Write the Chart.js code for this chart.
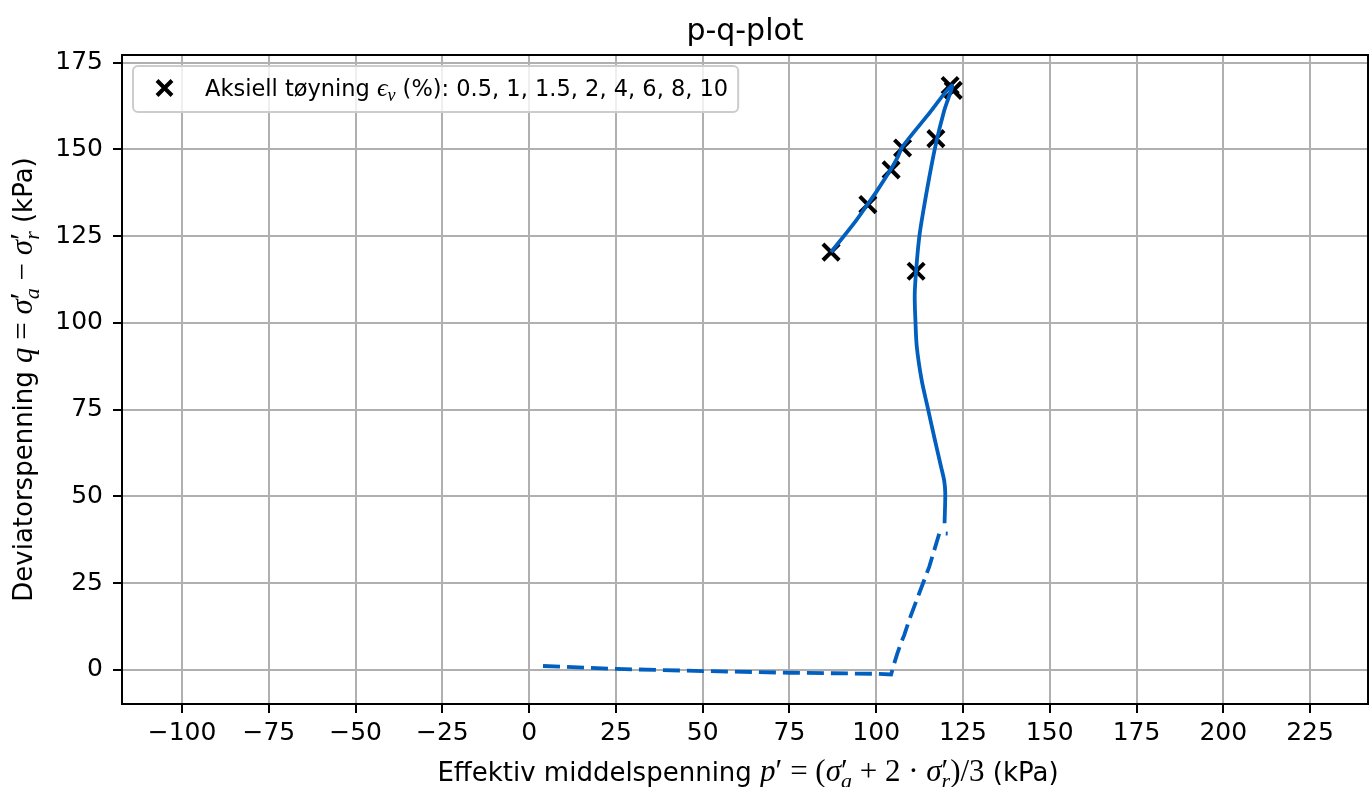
<!DOCTYPE html>
<html><head><meta charset="utf-8">
<script src="https://cdn.jsdelivr.net/npm/chart.js@4.4.1/dist/chart.umd.min.js"></script>
<style>html,body{margin:0;padding:0;background:#fff}#wrap{width:1370px;height:787px}</style>
</head><body><div id="wrap"><canvas id="c" width="1370" height="787"></canvas></div>
<script>
// ---- data ----
const chartTitle = 'p-q-plot';
const dashedP = [4.0, 25.1, 50.1, 75.0, 100.4, 104.3, 105.2, 106.1, 107.1, 108.1, 109.5, 112.4, 115.3, 118.2, 120.6];
const dashedQ = [1.15, 0.3, -0.3, -0.8, -1.1, -1.3, 1.9, 4.8, 7.7, 10.1, 14.4, 22.1, 29.8, 39.4, 39.3];
const solidP = [119.7, 119.9, 119.6, 118.7, 116.7, 114.8, 113.1, 111.7, 111.3, 111.1, 111.5, 112.4, 113.6, 115.3, 117.2, 119.6, 121.8, 114.8, 107.6, 106.2, 104.3, 100.0, 97.6, 94.2, 87.0];
const solidQ = [42.3, 50.9, 54.5, 58.5, 67.2, 75.8, 83.5, 93.1, 100.7, 108.0, 115.0, 124.7, 132.4, 142.0, 151.6, 161.2, 168.4, 159.8, 150.8, 147.8, 144.4, 137.7, 134.3, 129.5, 120.4];
const markerP = [111.5, 117.2, 121.3, 122.2, 107.6, 104.3, 97.6, 87.0];
const markerQ = [114.9, 153.1, 168.4, 167.0, 150.4, 144.1, 134.1, 120.4];
const strainLabels = ['0.5', '1', '1.5', '2', '4', '6', '8', '10'];
const xTickValues = [-100, -75, -50, -25, 0, 25, 50, 75, 100, 125, 150, 175, 200, 225];
const yTickValues = [0, 25, 50, 75, 100, 125, 150, 175];
const xRange = [-117.3, 241.7];
const yRange = [-9.8, 177.2];

const BLUE = '#005fbf';
const SANS = '"DejaVu Sans", sans-serif';
const SERIF = '"Liberation Serif", "DejaVu Serif", serif';

const toXY = (ps, qs) => ps.map((p, i) => ({x: p, y: qs[i]}));
const fmt = v => v < 0 ? '\u2212' + Math.abs(v) : String(v);

function layoutRuns(ctx, runs) {
  let cur = 0, lastW = 0, maxX = 0;
  const pos = [];
  for (const r of runs) {
    ctx.font = r.f;
    const w = ctx.measureText(r.t).width;
    if (r.back) cur -= lastW;
    pos.push(cur);
    if (r.back) { cur += Math.max(w, lastW); } else { cur += w; }
    lastW = w;
    maxX = Math.max(maxX, cur);
  }
  return {pos, width: maxX};
}
function drawRuns(ctx, runs, x, y, rot, align) {
  ctx.save();
  ctx.translate(x, y);
  if (rot) ctx.rotate(rot);
  ctx.fillStyle = '#000';
  ctx.textBaseline = 'alphabetic';
  ctx.textAlign = 'left';
  const L = layoutRuns(ctx, runs);
  const start = align === 'left' ? 0 : -L.width / 2;
  runs.forEach((r, i) => {
    ctx.font = r.f;
    ctx.fillText(r.t, start + L.pos[i], r.dy || 0);
  });
  ctx.restore();
  return L.width;
}

const mI = 'italic 31px ' + SERIF, mR = '31px ' + SERIF, mS = 'italic 22px ' + SERIF;
const sansL = '26px ' + SANS;
const xLabelRuns = [
  {t: 'Effektiv middelspenning ', f: sansL},
  {t: 'p', f: mI}, {t: '\u2032', f: mR}, {t: ' = (', f: mR},
  {t: '\u03c3', f: mI}, {t: '\u2032', f: mR}, {t: 'a', f: mS, dy: 7, back: true},
  {t: ' + 2 \u00b7 ', f: mR},
  {t: '\u03c3', f: mI}, {t: '\u2032', f: mR}, {t: 'r', f: mS, dy: 7, back: true},
  {t: ')/3', f: mR}, {t: ' (kPa)', f: sansL}
];
const yLabelRuns = [
  {t: 'Deviatorspenning ', f: sansL},
  {t: 'q', f: mI}, {t: ' = ', f: mR},
  {t: '\u03c3', f: mI}, {t: '\u2032', f: mR}, {t: 'a', f: mS, dy: 7, back: true},
  {t: ' \u2212 ', f: mR},
  {t: '\u03c3', f: mI}, {t: '\u2032', f: mR}, {t: 'r', f: mS, dy: 7, back: true},
  {t: ' (kPa)', f: sansL}
];
const legFont = '22.5px ' + SANS;
const legendRuns = [
  {t: 'Aksiell t\u00f8yning ', f: legFont},
  {t: '\u03f5', f: 'italic 26px ' + SERIF}, {t: 'v', f: 'italic 18px ' + SERIF, dy: 5},
  {t: ' (%): ' + strainLabels.join(', '), f: legFont}
];

function drawCross(ctx, x, y, r, lw) {
  ctx.save();
  ctx.strokeStyle = '#000'; ctx.lineWidth = lw; ctx.lineCap = 'butt';
  ctx.beginPath();
  ctx.moveTo(x - r, y - r); ctx.lineTo(x + r, y + r);
  ctx.moveTo(x - r, y + r); ctx.lineTo(x + r, y - r);
  ctx.stroke();
  ctx.restore();
}

const decor = {
  id: 'decor',
  afterDatasetsDraw(chart) {
    const {ctx, chartArea: a} = chart;
    ctx.save();
    ctx.strokeStyle = '#000'; ctx.lineWidth = 2;
    ctx.strokeRect(a.left, a.top, a.right - a.left, a.bottom - a.top);
    ctx.restore();
  },
  afterDraw(chart) {
    const {ctx, chartArea: a} = chart;
    // title
    ctx.save();
    ctx.font = '30px ' + SANS; ctx.fillStyle = '#000';
    ctx.textAlign = 'center'; ctx.textBaseline = 'alphabetic';
    ctx.fillText(chartTitle, (a.left + a.right) / 2, 40);
    ctx.restore();
    // axis labels
    drawRuns(ctx, xLabelRuns, (a.left + a.right) / 2 + 3, 781, 0);
    drawRuns(ctx, yLabelRuns, 32, (a.top + a.bottom) / 2, -Math.PI / 2);
    // legend
    const L = layoutRuns(ctx, legendRuns);
    const bx = a.left + 11, by = a.top + 11, bh = 46;
    const bw = (205 - 133) + L.width + 10;
    ctx.save();
    ctx.beginPath();
    ctx.roundRect(bx, by, bw, bh, 5);
    ctx.fillStyle = 'rgba(255,255,255,0.8)'; ctx.fill();
    ctx.strokeStyle = '#cccccc'; ctx.lineWidth = 2; ctx.stroke();
    ctx.restore();
    drawCross(ctx, bx + 31.5, by + 22, 7.5, 4);
    drawRuns(ctx, legendRuns, bx + 72, by + 30, 0, 'left');
  }
};

const gridCommon = {
  color: '#b0b0b0', lineWidth: 2, drawTicks: true, tickLength: 9,
  tickColor: '#000', tickWidth: 2, drawOnChartArea: true
};

new Chart(document.getElementById('c'), {
  type: 'scatter',
  data: {
    datasets: [
      {label: 'dashed', data: toXY(dashedP, dashedQ), showLine: true, borderColor: BLUE,
       borderWidth: 3.8, borderDash: [17, 7], pointRadius: 0, tension: 0, order: 1, fill: false},
      {label: 'solid', data: toXY(solidP, solidQ), showLine: true, borderColor: BLUE,
       borderWidth: 3.8, pointRadius: 0, tension: 0.3, order: 1, fill: false},
      {label: 'markers', data: toXY(markerP, markerQ), showLine: false, pointStyle: 'crossRot',
       pointRadius: 11.5, pointBorderWidth: 4, pointBorderColor: '#000', borderColor: '#000',
       backgroundColor: '#000', order: 2}
    ]
  },
  options: {
    responsive: false, animation: false, devicePixelRatio: 1,
    layout: {autoPadding: false, padding: {top: 55, right: 2, left: 0, bottom: 0}},
    plugins: {legend: {display: false}, title: {display: false}, tooltip: {enabled: false}},
    scales: {
      x: {
        type: 'linear', min: xRange[0], max: xRange[1],
        border: {display: false},
        grid: gridCommon,
        afterBuildTicks: s => { s.ticks = xTickValues.map(v => ({value: v})); },
        afterFit: s => { s.height = 83; s.paddingLeft = 0; s.paddingRight = 0; },
        ticks: {autoSkip: false, maxRotation: 0, padding: 5, color: '#000',
                font: {family: SANS, size: 25}, callback: v => fmt(v)}
      },
      y: {
        type: 'linear', min: yRange[0], max: yRange[1],
        border: {display: false},
        grid: gridCommon,
        afterBuildTicks: s => { s.ticks = yTickValues.map(v => ({value: v})); },
        afterFit: s => { s.width = 122; s.paddingTop = 0; s.paddingBottom = 0; },
        ticks: {autoSkip: false, padding: 10, color: '#000',
                font: {family: SANS, size: 25}, callback: v => fmt(v)}
      }
    }
  },
  plugins: [decor]
});
</script></body></html>
